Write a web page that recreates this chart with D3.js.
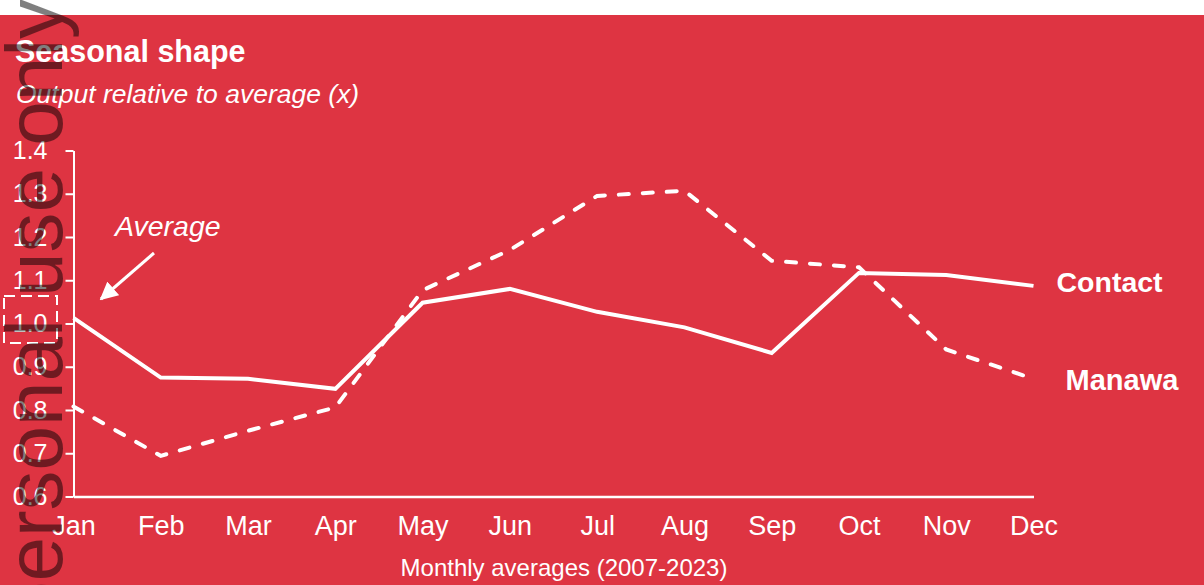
<!DOCTYPE html>
<html>
<head>
<meta charset="utf-8">
<script src="https://cdn.jsdelivr.net/npm/d3@7"></script>
<style>
  body { margin: 0; background: #fff; }
  svg { display: block; font-family: "Liberation Sans", Arial, sans-serif; }
</style>
</head>
<body>
<script>
// data
var months = ["Jan", "Feb", "Mar", "Apr", "May", "Jun", "Jul", "Aug", "Sep", "Oct", "Nov", "Dec"];
var contact = [1.013, 0.875, 0.872, 0.849, 1.048, 1.080, 1.027, 0.991, 0.932, 1.117, 1.112, 1.087];
var manawa = [0.808, 0.694, 0.752, 0.806, 1.077, 1.170, 1.295, 1.307, 1.145, 1.130, 0.940, 0.872];
var yTicks = [0.6, 0.7, 0.8, 0.9, 1.0, 1.1, 1.2, 1.3, 1.4];

function drawChart() {
    var svgWidth = 1204;
    var svgHeight = 585;
    var bg = "#de3442";

    var margin = { top: 150.5, right: 170.5, bottom: 88.5, left: 73.5 };
    var chartWidth = svgWidth - margin.left - margin.right;
    var chartHeight = svgHeight - margin.top - margin.bottom;

    var svg = d3.select("body")
        .append("svg")
        .attr("width", svgWidth)
        .attr("height", svgHeight);

    // red panel under a thin white strip
    svg.append("rect")
        .attr("x", 0)
        .attr("y", 15)
        .attr("width", svgWidth)
        .attr("height", svgHeight - 15)
        .attr("fill", bg);

    var chartGroup = svg.append("g")
        .attr("transform", `translate(${margin.left}, ${margin.top})`);

    var x = d3.scalePoint()
        .domain(months)
        .range([0, chartWidth]);

    var y = d3.scaleLinear()
        .domain([0.6, 1.4])
        .range([chartHeight, 0]);

    // y axis
    var yAxis = chartGroup.append("g")
        .call(d3.axisLeft(y)
            .tickValues(yTicks)
            .tickFormat(d3.format(".1f"))
            .tickSize(8)
            .tickSizeOuter(0)
            .tickPadding(18));
    yAxis.selectAll("path, line").attr("stroke", "#fff").attr("stroke-width", 2);
    yAxis.selectAll("text")
        .attr("fill", "#fff")
        .attr("font-size", 25)
        .attr("font-family", "Liberation Sans, Arial, sans-serif");

    // x axis
    var xAxis = chartGroup.append("g")
        .attr("transform", "translate(0," + chartHeight + ")")
        .call(d3.axisBottom(x).tickSize(0).tickPadding(19));
    xAxis.selectAll("path").attr("stroke", "#fff").attr("stroke-width", 2.5);
    xAxis.selectAll("text")
        .attr("fill", "#fff")
        .attr("font-size", 27)
        .attr("font-family", "Liberation Sans, Arial, sans-serif");

    // lines
    var line = d3.line()
        .x(function (d, i) { return x(months[i]); })
        .y(function (d) { return y(d); });

    chartGroup.append("path")
        .datum(manawa)
        .attr("d", line)
        .attr("fill", "none")
        .attr("stroke", "#fff")
        .attr("stroke-width", 4)
        .attr("stroke-linecap", "round")
        .attr("stroke-dasharray", "10,14");

    chartGroup.append("path")
        .datum(contact)
        .attr("d", line)
        .attr("fill", "none")
        .attr("stroke", "#fff")
        .attr("stroke-width", 4)
        .attr("stroke-linejoin", "miter");

    // series labels
    chartGroup.append("text")
        .attr("x", x("Dec") + 23)
        .attr("y", y(contact[11]) + 6)
        .attr("fill", "#fff")
        .attr("font-weight", "bold")
        .attr("font-size", 28.5)
        .text("Contact");
    chartGroup.append("text")
        .attr("x", x("Dec") + 32)
        .attr("y", y(manawa[11]) + 11)
        .attr("fill", "#fff")
        .attr("font-weight", "bold")
        .attr("font-size", 29)
        .text("Manawa");

    // "Average" annotation
    svg.append("defs").append("marker")
        .attr("id", "arrow")
        .attr("viewBox", "0 0 10 10")
        .attr("refX", 9)
        .attr("refY", 5)
        .attr("markerUnits", "userSpaceOnUse")
        .attr("markerWidth", 18)
        .attr("markerHeight", 18)
        .attr("orient", "auto")
        .append("path")
        .attr("d", "M0,0 L10,5 L0,10 Z")
        .attr("fill", "#fff");

    svg.append("text")
        .attr("x", 115)
        .attr("y", 236)
        .attr("fill", "#fff")
        .attr("font-style", "italic")
        .attr("font-size", 28.5)
        .text("Average");

    svg.append("line")
        .attr("x1", 154)
        .attr("y1", 253)
        .attr("x2", 101)
        .attr("y2", 299)
        .attr("stroke", "#fff")
        .attr("stroke-width", 3)
        .attr("marker-end", "url(#arrow)");

    svg.append("rect")
        .attr("x", 4)
        .attr("y", 296)
        .attr("width", 53)
        .attr("height", 47)
        .attr("fill", "none")
        .attr("stroke", "#fff")
        .attr("stroke-width", 2)
        .attr("stroke-dasharray", "11,6");

    // titles
    svg.append("text")
        .attr("x", 15)
        .attr("y", 62)
        .attr("fill", "#fff")
        .attr("font-weight", "bold")
        .attr("font-size", 30.5)
        .text("Seasonal shape");
    svg.append("text")
        .attr("x", 16)
        .attr("y", 103)
        .attr("fill", "#fff")
        .attr("font-style", "italic")
        .attr("font-size", 26.5)
        .text("Output relative to average (x)");

    svg.append("text")
        .attr("x", 564)
        .attr("y", 576)
        .attr("fill", "#fff")
        .attr("font-size", 24)
        .style("text-anchor", "middle")
        .text("Monthly averages (2007-2023)");

    // watermark on top of everything
    svg.append("text")
        .attr("transform", "translate(62,-1) rotate(-90)")
        .attr("fill", "#000")
        .attr("fill-opacity", 0.5)
        .attr("font-size", 80)
        .style("text-anchor", "end")
        .text("personal use only");
}

drawChart();
</script>
</body>
</html>
